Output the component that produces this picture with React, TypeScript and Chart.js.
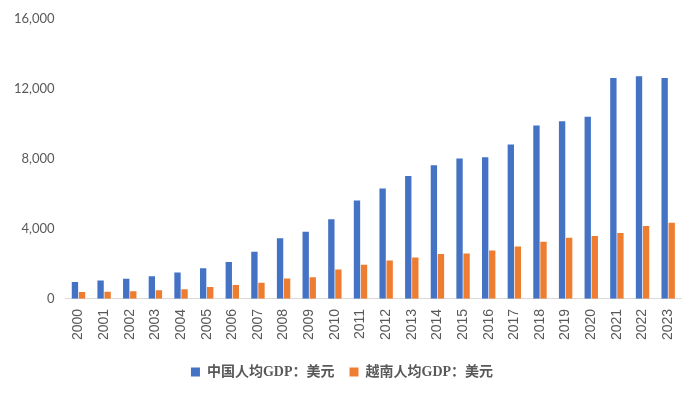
import React, { useEffect, useRef } from "react";
import { Chart, registerables } from "chart.js";

Chart.register(...registerables);

const years = ["2000","2001","2002","2003","2004","2005","2006","2007","2008","2009","2010","2011","2012","2013","2014","2015","2016","2017","2018","2019","2020","2021","2022","2023"];
const chinaGdp = [959,1053,1149,1289,1509,1753,2099,2694,3468,3832,4550,5614,6301,7020,7636,8016,8094,8817,9905,10144,10409,12618,12720,12614];
const vietnamGdp = [390,405,430,490,550,684,797,919,1165,1232,1684,1953,2190,2367,2558,2595,2760,2992,3267,3491,3586,3756,4164,4347];
const seriesNames = ["中国人均GDP：美元", "越南人均GDP：美元"];
const yTicks = [0, 4000, 8000, 12000, 16000];

export default function App() {
  const ref = useRef<HTMLCanvasElement | null>(null);
  useEffect(() => {
    if (!ref.current) return;
    const chart = new Chart(ref.current, {
      type: "bar",
      data: {
        labels: years,
        datasets: [
          { label: seriesNames[0], data: chinaGdp, backgroundColor: "#4472C4", borderWidth: 0, barPercentage: 0.9, categoryPercentage: 0.55 },
          { label: seriesNames[1], data: vietnamGdp, backgroundColor: "#ED7D31", borderWidth: 0, barPercentage: 0.9, categoryPercentage: 0.55 },
        ],
      },
      options: {
        animation: false,
        responsive: false,
        maintainAspectRatio: false,
        layout: { padding: { top: 10, right: 19, left: 3, bottom: 8 } },
        plugins: {
          legend: {
            position: "bottom",
            labels: {
              boxWidth: 9, boxHeight: 9, padding: 15,
              color: "#595959",
              font: { family: "'Liberation Serif', 'Noto Sans CJK SC'", size: 14, weight: "bold" },
            },
          },
          tooltip: { enabled: false },
        },
        scales: {
          x: {
            grid: { display: false, drawTicks: false },
            border: { display: true, color: "#d9d9d9", width: 1 },
            ticks: { color: "#595959", font: { family: "'Liberation Sans'", size: 14 }, maxRotation: 90, minRotation: 90, padding: 10, autoSkip: false },
          },
          y: {
            min: 0, max: 16000,
            afterBuildTicks: (axis: any) => { axis.ticks = yTicks.map((v) => ({ value: v })); },
            grid: { display: false, drawTicks: false },
            border: { display: false },
            ticks: {
              color: "#595959", font: { family: "Lato", size: 13 }, padding: 11,
              callback: (v: any) => Number(v).toLocaleString("en-US"),
            },
          },
        },
      },
    });
    return () => chart.destroy();
  }, []);
  return (
    <div style={{ position: "fixed", left: 0, top: 0, width: 700, height: 397, background: "#fff" }}>
      <canvas ref={ref} width={700} height={397} style={{ width: 700, height: 397 }} />
    </div>
  );
}
